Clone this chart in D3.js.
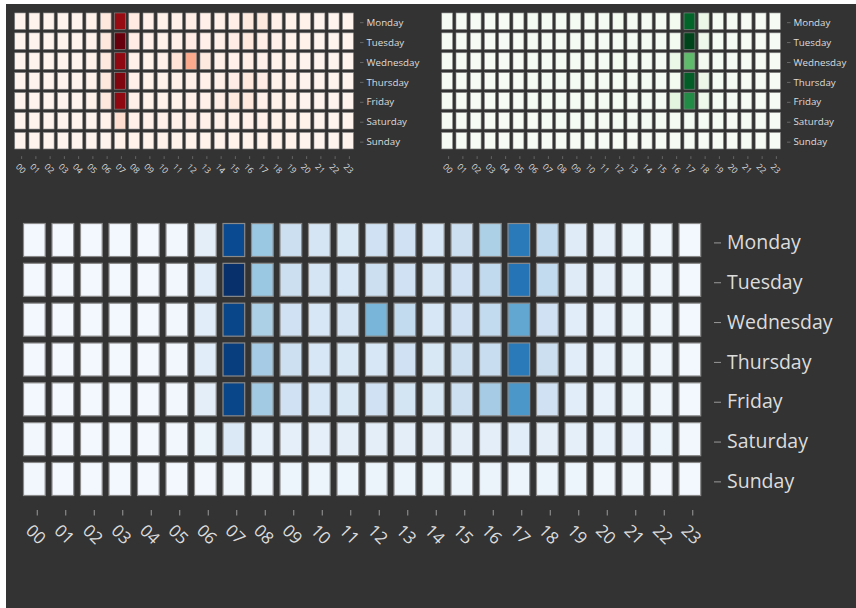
<!DOCTYPE html>
<html>
<head>
<meta charset="utf-8">
<script src="https://cdn.jsdelivr.net/npm/d3@7"></script>
<style>
  html, body { margin: 0; padding: 0; background: #fff; }
  svg { display: block; }
  text { font-family: "Open Sans", "Noto Sans", sans-serif; }
</style>
</head>
<body>
<svg id="chart" width="856" height="608"></svg>
<script>
const days = ["Monday", "Tuesday", "Wednesday", "Thursday", "Friday", "Saturday", "Sunday"];
const hours = ["00","01","02","03","04","05","06","07","08","09","10","11","12","13","14","15","16","17","18","19","20","21","22","23"];

// Morning (reds)
const redValues = [
  [1,1,1,1,1,2,8,90,6,3,2,3,4,3,3,4,7,7,3,2,2,1,1,1],
  [1,1,1,1,1,2,8,100,5,3,2,3,5,3,3,5,8,4,3,2,2,1,1,1],
  [1,1,1,1,1,2,7,92,3,2,3,10,30,7,3,3,4,3,2,2,1,1,1,1],
  [1,1,1,1,1,2,8,95,3,2,2,3,3,3,3,5,8,5,2,2,1,1,1,1],
  [1,1,1,1,1,2,8,92,3,2,2,2,3,3,4,7,8,3,2,2,1,1,1,1],
  [1,1,1,1,1,1,2,12,3,3,3,3,4,3,3,3,3,3,2,2,2,1,1,1],
  [1,1,1,1,1,1,1,2,2,2,2,2,2,2,2,2,2,2,2,2,1,1,1,1]
];
// Evening (greens)
const greenValues = [
  [1,1,1,1,1,1,2,2,2,2,2,2,3,2,2,2,3,90,8,2,2,1,1,1],
  [1,1,1,1,1,1,2,2,2,2,2,2,2,2,2,2,3,100,6,2,2,1,1,1],
  [1,1,1,1,1,1,2,2,2,2,2,2,3,2,2,2,8,55,3,2,2,1,1,1],
  [1,1,1,1,1,1,2,2,2,2,2,2,2,2,2,2,3,92,7,2,2,1,1,1],
  [1,1,1,1,1,1,2,2,2,2,2,2,2,2,2,2,12,75,6,2,2,1,1,1],
  [1,1,1,1,1,1,1,2,2,2,2,2,2,2,2,2,2,2,2,2,1,1,1,1],
  [1,1,1,1,1,1,1,1,1,1,1,1,1,1,1,1,1,1,1,1,1,1,1,1]
];
// All (blues)
const blueValues = [
  [2,2,2,2,2,3,10,90,38,22,17,15,20,20,16,22,33,72,26,12,9,6,4,2],
  [2,2,2,2,2,3,11,100,38,22,17,16,22,20,17,20,26,74,25,12,9,6,4,2],
  [2,2,2,2,2,3,11,92,33,20,16,17,47,25,16,20,25,53,20,11,8,6,4,2],
  [2,2,2,2,2,3,11,95,35,21,16,15,16,20,15,21,23,72,22,11,8,6,4,2],
  [2,2,2,2,2,3,10,92,36,20,16,15,20,18,15,21,35,60,20,11,8,6,4,2],
  [3,2,2,2,2,3,6,14,8,9,9,10,10,10,10,10,10,11,10,9,8,7,5,3],
  [3,2,2,2,2,2,3,4,4,5,5,5,6,6,6,6,6,5,6,5,4,4,3,2]
];

const svg = d3.select("#chart");
svg.append("rect").attr("x", 0).attr("y", 0).attr("width", 856).attr("height", 608).attr("fill", "#ffffff");
svg.append("rect").attr("x", 6).attr("y", 4).attr("width", 850).attr("height", 604).attr("fill", "#333333");

function heatmap(values, interp, ox, oy, s) {
  const g = svg.append("g").attr("transform", `translate(${ox},${oy}) scale(${s})`);
  const gap = 5.8;
  const x = d3.scaleBand().domain(hours).range([17, 17 + 684]);
  const y = d3.scaleBand().domain(days).range([17.4, 17.4 + 278.8]);
  const color = d3.scaleSequential(interp).domain([0, 100]);
  const cells = [];
  values.forEach((row, i) => row.forEach((v, j) => cells.push({ day: days[i], hour: hours[j], v })));
  g.selectAll("rect.cell").data(cells).join("rect")
    .attr("class", "cell")
    .attr("x", d => x(d.hour) + 0.5)
    .attr("y", d => y(d.day) + 0.5)
    .attr("width", x.bandwidth() - gap - 1)
    .attr("height", y.bandwidth() - gap - 1)
    .attr("fill", d => color(d.v))
    .attr("stroke", "#8a8a8a")
    .attr("stroke-width", 1.2);

  const ya = g.append("g").attr("transform", "translate(708,0)")
    .call(d3.axisRight(y).tickSize(7).tickPadding(6));
  ya.select(".domain").remove();
  ya.selectAll("line").attr("stroke", "#9a9a9a");
  ya.selectAll("text").attr("fill", "#dcdcdc").attr("font-size", 19.5)
    .attr("font-family", "'Open Sans', 'Noto Sans', sans-serif");

  const xa = g.append("g").attr("transform", "translate(0,304.4)")
    .call(d3.axisBottom(x).tickSize(5.5).tickPadding(0));
  xa.select(".domain").remove();
  xa.selectAll("line").attr("stroke", "#9a9a9a");
  xa.selectAll("text")
    .attr("fill", "#dcdcdc").attr("font-size", 17)
    .attr("font-family", "'Open Sans', 'Noto Sans', sans-serif")
    .attr("y", 0).attr("dy", null)
    .attr("text-anchor", "middle")
    .attr("dominant-baseline", "central")
    .attr("transform", "translate(-1,24) rotate(45)");
}

heatmap(redValues, d3.interpolateReds, 6, 4, 0.5);
heatmap(greenValues, d3.interpolateGreens, 433, 4, 0.5);
heatmap(blueValues, d3.interpolateBlues, 6, 205.6, 1);
</script>
</body>
</html>
